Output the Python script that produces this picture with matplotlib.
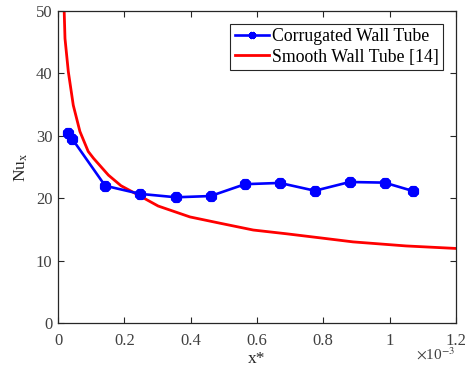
import matplotlib
matplotlib.use("Agg")
import matplotlib.pyplot as plt
from matplotlib.ticker import FuncFormatter

plt.rcParams['font.family'] = ['Liberation Serif', 'DejaVu Serif']
plt.rcParams['mathtext.fontset'] = 'stix'

# Corrugated wall tube data (x* in units of 1e-3)
x_corr = [0.031, 0.043, 0.142, 0.247, 0.356, 0.460, 0.564,
          0.669, 0.775, 0.880, 0.985, 1.071]
nu_corr = [30.4, 29.5, 22.0, 20.7, 20.15, 20.35, 22.25, 22.45, 21.2, 22.6, 22.5, 21.15]

# Smooth wall tube [14] (x* in units of 1e-3)
x_smooth = [0.018, 0.021, 0.031, 0.046, 0.066, 0.091, 0.107,
            0.152, 0.190, 0.232, 0.302, 0.398, 0.488, 0.589,
            0.689, 0.790, 0.890, 1.050, 1.200]
nu_smooth = [51.0, 45.6, 40.3, 34.9, 30.7, 27.5, 26.4, 23.7, 22.0, 20.8, 18.75,
             17.0, 16.0, 14.9, 14.3, 13.65, 13.0, 12.35, 11.95]

x_ticks = [0, 0.2, 0.4, 0.6, 0.8, 1.0, 1.2]
y_ticks = [0, 10, 20, 30, 40, 50]

fig = plt.figure(figsize=(4.68, 3.69), dpi=100)
ax = fig.add_axes([0.124, 0.1247, 0.850, 0.8453])

ax.plot(x_corr, nu_corr, color='#0000ff', lw=1.9, marker=(8, 2, 0), ms=8,
        mew=2.8, mec='#0000ff', label='Corrugated Wall Tube', zorder=3)
ax.plot(x_smooth, nu_smooth, color='#ff0000', lw=2.0, label='Smooth Wall Tube [14]',
        zorder=2)

ax.set_xlim(0, 1.2)
ax.set_ylim(0, 50)
ax.set_xticks(x_ticks)
ax.set_yticks(y_ticks)
ax.xaxis.set_major_formatter(FuncFormatter(lambda v, p: '%g' % round(v, 6)))

ax.tick_params(direction='in', top=True, right=True, labelsize=12,
               length=4, width=0.8, colors='#262626', labelcolor='#404040')
ax.tick_params(axis='x', pad=7)
ax.tick_params(axis='y', pad=4)
for s in ax.spines.values():
    s.set_linewidth(0.9)
    s.set_color('#262626')

ax.set_xlabel('x*', fontsize=12.5, color='#262626', labelpad=2)
ax.set_ylabel('Nu$_\\mathregular{x}$', fontsize=12.5, color='#262626', labelpad=4)

fig.text(455 / 468, 1 - 354 / 369, '$\\times$10$^{-3}$', ha='right', va='center',
         fontsize=11, color='#404040')

leg = ax.legend(loc='upper right', fontsize=12.8, frameon=True, fancybox=False,
                edgecolor='#262626', framealpha=1, borderpad=0.25, handlelength=1.9,
                handletextpad=0.2, labelspacing=0.2, borderaxespad=0.7)
leg.get_frame().set_linewidth(0.8)
for h in leg.legend_handles:
    h.set_markersize(5)

fig.savefig('out.png', dpi=100)
